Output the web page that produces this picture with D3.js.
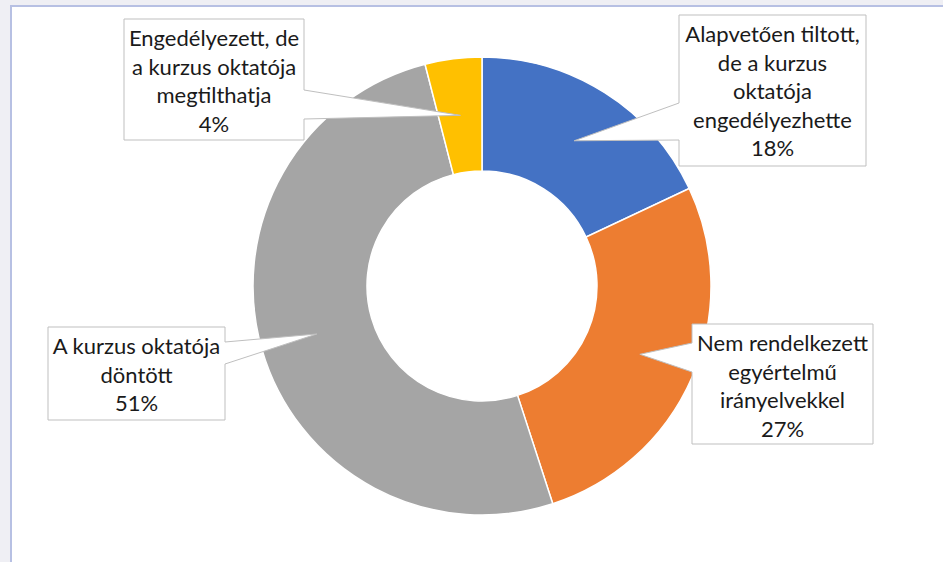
<!DOCTYPE html>
<html>
<head>
<meta charset="utf-8">
<script src="https://cdn.jsdelivr.net/npm/d3@7"></script>
<style>
  body { margin: 0; background: #efeff4; }
  svg { display: block; }
  .callout-text { font-family: Lato, "Liberation Sans", sans-serif; font-size: 22px; fill: #1a1a1a; }
</style>
</head>
<body>
<script>
// chart data
const labels = [
    ["Alapvetően tiltott,", "de a kurzus", "oktatója", "engedélyezhette"],
    ["Nem rendelkezett", "egyértelmű", "irányelvekkel"],
    ["A kurzus oktatója", "döntött"],
    ["Engedélyezett, de", "a kurzus oktatója", "megtilthatja"],
];
const values = [18, 27, 51, 4];
const colours = ["#4472C4", "#ED7D31", "#A5A5A5", "#FFC000"];

const width = 943;
const height = 562;

const svg = d3
    .select("body")
    .append("svg")
    .attr("width", width)
    .attr("height", height);

// the Excel-ish window frame
svg.append("rect")
    .attr("x", 10)
    .attr("y", 5)
    .attr("width", width - 10)
    .attr("height", height - 5)
    .attr("fill", "#b7c0e3");
svg.append("rect")
    .attr("x", 12)
    .attr("y", 7)
    .attr("width", width - 12)
    .attr("height", height - 7)
    .attr("fill", "#ffffff");

const cx = 482;
const cy = 286;
const outerR = 229;
const innerR = 115;

const pie = d3.pie().sort(null).value((d) => d);
const arcs = pie(values);

const arc = d3.arc().innerRadius(innerR).outerRadius(outerR);

const g = svg.append("g").attr("transform", `translate(${cx},${cy})`);

g.selectAll("path")
    .data(arcs)
    .join("path")
    .attr("d", arc)
    .attr("fill", (d, i) => colours[i])
    .attr("stroke", "#ffffff")
    .attr("stroke-width", 1.5);

// callout boxes (box + side where the wedge leaves + wedge base)
const callouts = [
    { x: 679, y: 15, w: 187, h: 151, side: "left", b0: 103, b1: 140 },
    { x: 692, y: 324, w: 181, h: 120, side: "left", b0: 343, b1: 372 },
    { x: 48, y: 327, w: 177, h: 93, side: "right", b0: 342, b1: 364 },
    { x: 124, y: 19, w: 180, h: 121, side: "right", b0: 90, b1: 119 },
];

function calloutPath(c, tip) {
    const p = d3.path();
    const tx = cx + tip[0];
    const ty = cy + tip[1];
    if (c.side === "left") {
        p.moveTo(c.x, c.y);
        p.lineTo(c.x + c.w, c.y);
        p.lineTo(c.x + c.w, c.y + c.h);
        p.lineTo(c.x, c.y + c.h);
        p.lineTo(c.x, c.b1);
        p.lineTo(tx, ty);
        p.lineTo(c.x, c.b0);
    } else {
        p.moveTo(c.x, c.y);
        p.lineTo(c.x + c.w, c.y);
        p.lineTo(c.x + c.w, c.b0);
        p.lineTo(tx, ty);
        p.lineTo(c.x + c.w, c.b1);
        p.lineTo(c.x + c.w, c.y + c.h);
        p.lineTo(c.x, c.y + c.h);
    }
    p.closePath();
    return p.toString();
}

const lineH = 28.5;

arcs.forEach((d, i) => {
    const c = callouts[i];
    const tip = arc.centroid(d);

    svg.append("path")
        .attr("d", calloutPath(c, tip))
        .attr("fill", "#ffffff")
        .attr("stroke", "#bfbfbf")
        .attr("stroke-width", 1);

    const lines = labels[i].concat([values[i] + "%"]);
    svg.append("g")
        .selectAll("text")
        .data(lines)
        .join("text")
        .attr("class", "callout-text")
        .attr("x", c.x + c.w / 2)
        .attr("y", (t, j) => c.y + 19.5 + j * lineH)
        .attr("dy", "0.35em")
        .attr("text-anchor", "middle")
        .text((t) => t);
});
</script>
</body>
</html>
